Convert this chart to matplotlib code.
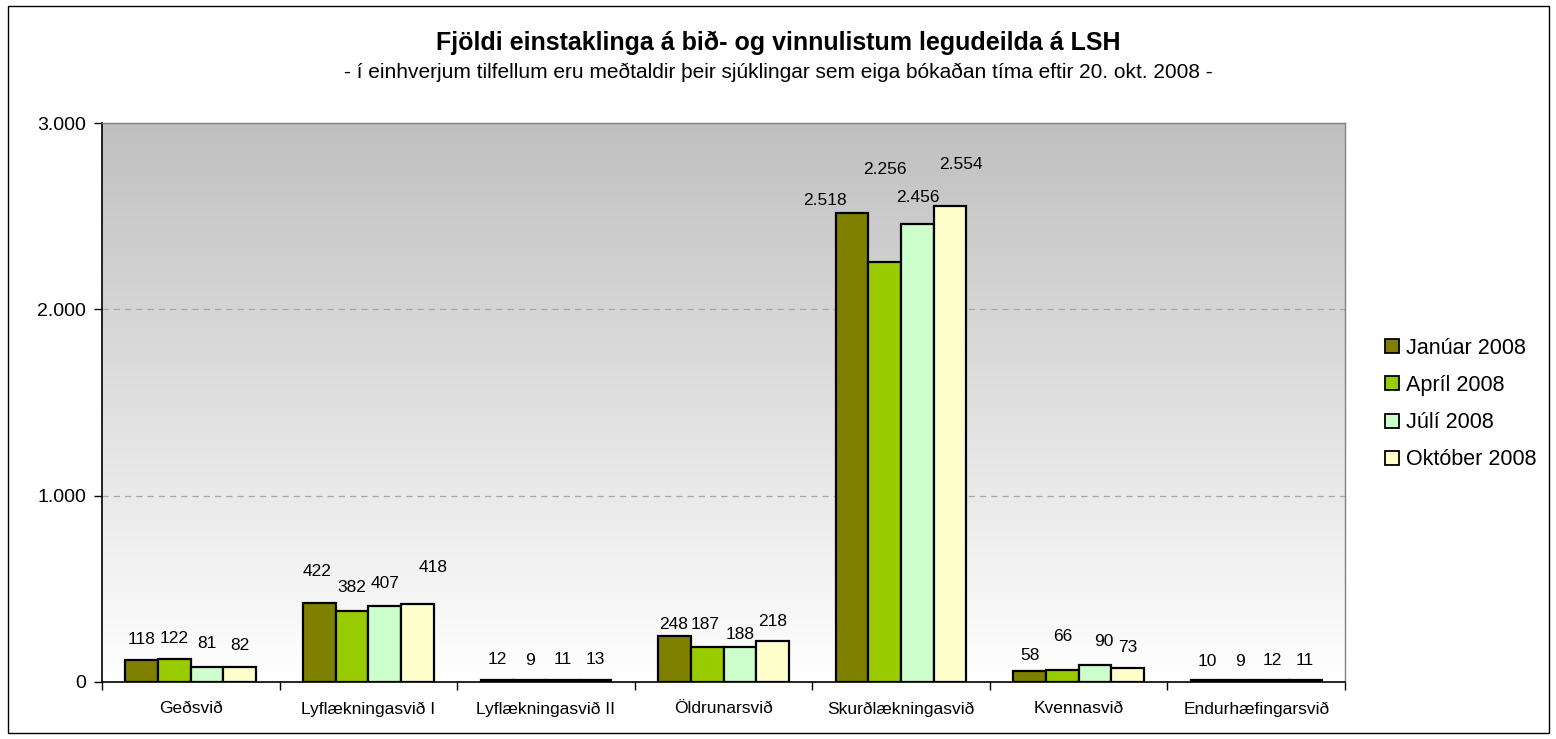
import numpy as np
import matplotlib
matplotlib.use("Agg")
import matplotlib.pyplot as plt
from matplotlib.patches import Rectangle
from matplotlib.lines import Line2D

plt.rcParams['font.family'] = ['Liberation Sans', 'DejaVu Sans']

# data
categories = ['Geðsvið', 'Lyflækningasvið I', 'Lyflækningasvið II', 'Öldrunarsvið',
              'Skurðlækningasvið', 'Kvennasvið', 'Endurhæfingarsvið']
series = ['Janúar 2008', 'Apríl 2008', 'Júlí 2008', 'Október 2008']
jan = [118, 422, 12, 248, 2518, 58, 10]
apr = [122, 382, 9, 187, 2256, 66, 9]
jul = [81, 407, 11, 188, 2456, 90, 12]
okt = [82, 418, 13, 218, 2554, 73, 11]
values = [jan, apr, jul, okt]
colors = ['#808000', '#99cc00', '#ccffcc', '#ffffcc']

# label offsets (pixels above bar top, x shift) as in the original Excel layout
label_dy = [[21, 32, 20, 11, 12, 16, 19],
            [21, 23, 20, 23, 92, 33, 19],
            [23, 23, 20, 12, 27, 24, 19],
            [21, 37, 20, 20, 42, 21, 19]]
label_dx = [[0, -2, 0, -1, -27, 0, 0],
            [0, 0, 0, -2, 0, 0, 0],
            [0, 0, 0, 0, 0, 9, 0],
            [0, 16, 0, 0, 11, 0, 0]]

fig = plt.figure(figsize=(15.56, 7.39), dpi=100, facecolor='white')
fig.patches.append(Rectangle((8 / 1556, 6 / 739), 1541 / 1556, 727 / 739,
                             transform=fig.transFigure, fill=False,
                             edgecolor='black', linewidth=1.0))

ax = fig.add_axes([102 / 1556, 1 - 682 / 739, (1345 - 102) / 1556, (682 - 123) / 739])

# grey-to-white gradient background
grad = np.linspace(0, 1, 256).reshape(-1, 1)
ax.imshow(grad, extent=[-0.5, 6.5, 0, 3000], aspect='auto', origin='upper',
          cmap=matplotlib.colors.LinearSegmentedColormap.from_list('g', ['#c0c0c0', '#ffffff']),
          zorder=0)

x = np.arange(len(categories))
w = 0.184
for k, (vals, col) in enumerate(zip(values, colors)):
    pos = x + (k - 1.5) * w
    ax.bar(pos, vals, width=w, color=col, edgecolor='black', linewidth=1.6, zorder=3)
    for i, v in enumerate(vals):
        ax.annotate(f'{v:,}'.replace(',', '.'), (pos[i], v),
                    xytext=(label_dx[k][i], label_dy[k][i]), textcoords='offset pixels',
                    ha='center', va='center', fontsize=12.5, zorder=4)

ax.set_xlim(-0.5, 6.5)
ax.set_ylim(0, 3000)
ax.set_yticks([0, 1000, 2000, 3000])
ax.set_yticklabels(['0', '1.000', '2.000', '3.000'], fontsize=14)
for yv in [1000, 2000]:
    ax.axhline(yv, color='#a6a6a6', linestyle=(0, (5, 4)), linewidth=0.9, zorder=1)

ax.set_xticks(np.arange(-0.5, 7, 1))
ax.set_xticklabels([])
ax.set_xticks(x, minor=True)
ax.set_xticklabels(categories, minor=True, fontsize=12.5)
ax.tick_params(axis='x', which='minor', length=0, pad=14)
ax.tick_params(axis='x', which='major', length=6, width=1, direction='out')
ax.tick_params(axis='y', length=6, width=1, direction='out', pad=5.5)

for s in ['left', 'bottom']:
    ax.spines[s].set_color('black')
    ax.spines[s].set_linewidth(1.2)
for s in ['top', 'right']:
    ax.spines[s].set_color('#808080')
    ax.spines[s].set_linewidth(1.0)

fig.text(0.5, 1 - 43 / 739, 'Fjöldi einstaklinga á bið- og vinnulistum legudeilda á LSH',
         ha='center', va='center', fontsize=18, fontweight='bold')
fig.text(0.5, 1 - 72 / 739,
         '- í einhverjum tilfellum eru meðtaldir þeir sjúklingar sem eiga bókaðan tíma eftir 20. okt. 2008 -',
         ha='center', va='center', fontsize=15)

handles = [Line2D([], [], marker='s', linestyle='none', markersize=10,
                  markerfacecolor=c, markeredgecolor='black', markeredgewidth=1.3)
           for c in colors]
fig.legend(handles, series, loc='center left', bbox_to_anchor=(1362 / 1556, 1 - 404 / 739),
           frameon=False, fontsize=15.5, handletextpad=0.15, labelspacing=0.75,
           handlelength=1.0)

fig.savefig('out.png', dpi=100, facecolor='white')
